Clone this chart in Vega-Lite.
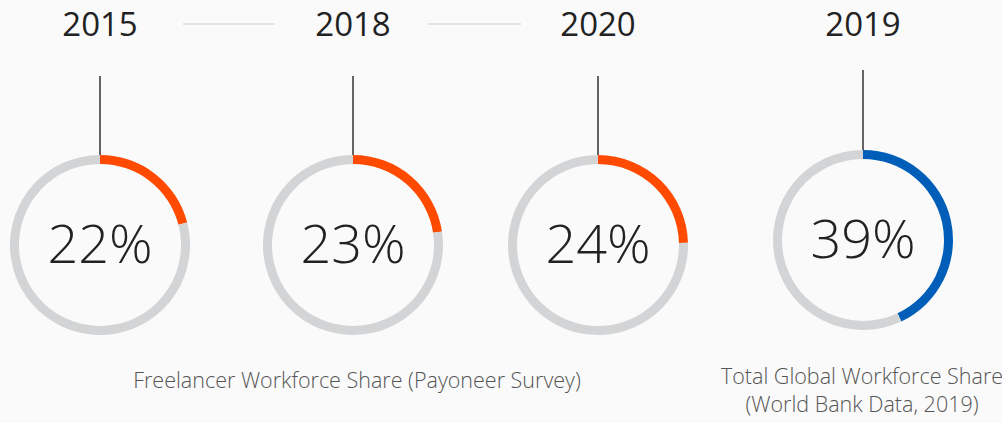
{
  "$schema": "https://vega.github.io/schema/vega-lite/v6.json",
  "width": 1002,
  "height": 423,
  "autosize": {"type": "none"},
  "padding": 0,
  "background": "#fafafa",
  "config": {"view": {"stroke": null}, "font": "Open Sans"},
  "datasets": {
    "arcs": [
      {"ring": "2015", "cx": 100, "cy": 245, "start": 0, "end": 21, "segment": "freelancer"},
      {"ring": "2015", "cx": 100, "cy": 245, "start": 21, "end": 100, "segment": "rest"},
      {"ring": "2018", "cx": 353, "cy": 245, "start": 0, "end": 22.6, "segment": "freelancer"},
      {"ring": "2018", "cx": 353, "cy": 245, "start": 22.6, "end": 100, "segment": "rest"},
      {"ring": "2020", "cx": 598, "cy": 245, "start": 0, "end": 24.6, "segment": "freelancer"},
      {"ring": "2020", "cx": 598, "cy": 245, "start": 24.6, "end": 100, "segment": "rest"},
      {"ring": "2019", "cx": 863, "cy": 240, "start": 0, "end": 43, "segment": "global"},
      {"ring": "2019", "cx": 863, "cy": 240, "start": 43, "end": 100, "segment": "rest"}
    ],
    "rings": [
      {"year": "2015", "pct": "22%", "cx": 100, "cy": 245, "ty": 247, "ly": 26, "stemTop": 76, "stemBottom": 155},
      {"year": "2018", "pct": "23%", "cx": 353, "cy": 245, "ty": 247, "ly": 26, "stemTop": 76, "stemBottom": 155},
      {"year": "2020", "pct": "24%", "cx": 598, "cy": 245, "ty": 247, "ly": 26, "stemTop": 76, "stemBottom": 155},
      {"year": "2019", "pct": "39%", "cx": 863, "cy": 240, "ty": 242, "ly": 26, "stemTop": 70, "stemBottom": 150}
    ],
    "connectors": [
      {"x1": 183, "x2": 275, "y": 24},
      {"x1": 428, "x2": 521, "y": 24}
    ],
    "captions": [
      {"text": "Freelancer Workforce Share (Payoneer Survey)", "x": 357, "y": 382},
      {"text": "Total Global Workforce Share", "x": 862, "y": 378},
      {"text": "(World Bank Data, 2019)", "x": 862, "y": 406}
    ]
  },
  "layer": [
    {
      "data": {"name": "connectors"},
      "mark": {"type": "rule", "color": "#dcdcdc", "strokeWidth": 1.5},
      "encoding": {
        "x": {"field": "x1", "type": "quantitative", "scale": {"domain": [0, 1002], "nice": false, "zero": false}, "axis": null},
        "x2": {"field": "x2"},
        "y": {"field": "y", "type": "quantitative", "scale": {"domain": [0, 423], "reverse": true, "nice": false, "zero": false}, "axis": null}
      }
    },
    {
      "data": {"name": "rings"},
      "mark": {"type": "rule", "color": "#333333", "strokeWidth": 1.5},
      "encoding": {
        "x": {"field": "cx", "type": "quantitative"},
        "y": {"field": "stemTop", "type": "quantitative"},
        "y2": {"field": "stemBottom"}
      }
    },
    {
      "data": {"name": "arcs"},
      "mark": {"type": "arc", "radius": 90, "radius2": 81},
      "encoding": {
        "x": {"field": "cx", "type": "quantitative"},
        "y": {"field": "cy", "type": "quantitative"},
        "theta": {"field": "start", "type": "quantitative", "stack": null, "scale": {"domain": [0, 100], "range": [0, 6.283185307179586], "zero": true, "nice": false}},
        "theta2": {"field": "end"},
        "color": {"field": "segment", "type": "nominal", "legend": null, "scale": {"domain": ["freelancer", "global", "rest"], "range": ["#ff4a00", "#005eb8", "#d3d4d6"]}}
      }
    },
    {
      "data": {"name": "rings"},
      "mark": {"type": "text", "fontSize": 33, "color": "#222222", "font": "Open Sans", "baseline": "middle", "align": "center"},
      "encoding": {
        "x": {"field": "cx", "type": "quantitative"},
        "y": {"field": "ly", "type": "quantitative"},
        "text": {"field": "year"}
      }
    },
    {
      "data": {"name": "rings"},
      "mark": {"type": "text", "fontSize": 54, "fontWeight": 300, "color": "#222222", "font": "Open Sans", "baseline": "middle", "align": "center"},
      "encoding": {
        "x": {"field": "cx", "type": "quantitative"},
        "y": {"field": "ty", "type": "quantitative"},
        "text": {"field": "pct"}
      }
    },
    {
      "data": {"name": "captions"},
      "mark": {"type": "text", "fontSize": 21.5, "fontWeight": 300, "color": "#555555", "font": "Open Sans", "baseline": "middle", "align": "center"},
      "encoding": {
        "x": {"field": "x", "type": "quantitative"},
        "y": {"field": "y", "type": "quantitative"},
        "text": {"field": "text"}
      }
    }
  ]
}
